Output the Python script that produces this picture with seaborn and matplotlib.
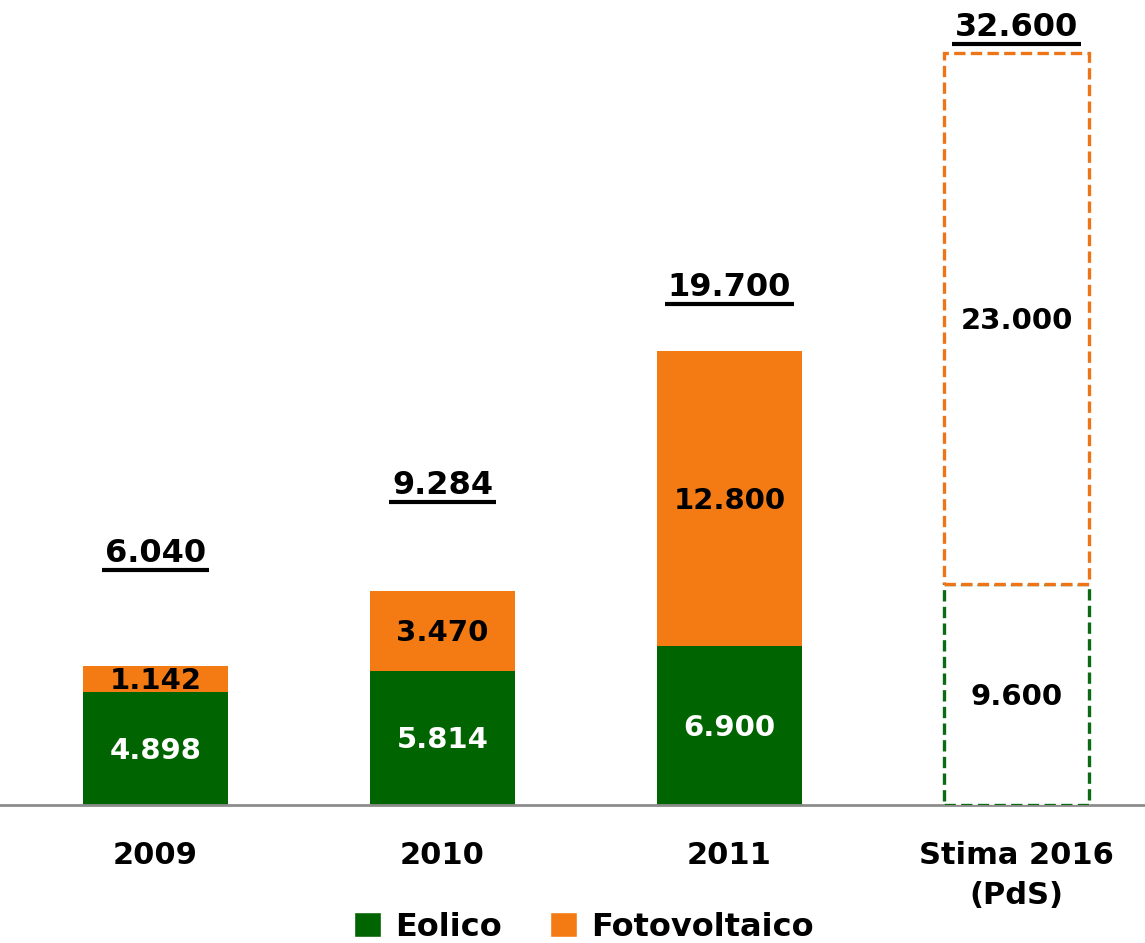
#!/usr/bin/env python3
# Stacked bar chart: potenza installata eolico + fotovoltaico (MW)

import matplotlib
matplotlib.use("Agg")
import matplotlib.pyplot as plt
from matplotlib.patches import Patch
import seaborn as sns

# ============================================================================
# DATA
# ============================================================================
categorie = ["2009", "2010", "2011", "Stima 2016\n(PdS)"]
eolico = [4898, 5814, 6900, 9600]
fotovoltaico = [1142, 3470, 12800, 23000]
totali = [6040, 9284, 19700, 32600]

eolico_lbl = ["4.898", "5.814", "6.900", "9.600"]
foto_lbl = ["1.142", "3.470", "12.800", "23.000"]
totali_lbl = ["6.040", "9.284", "19.700", "32.600"]

# layout: height (data units) of the underlined totals
totali_y = [10920, 13870, 22450, 33720]

# ============================================================================
# THEME SETTINGS
# ============================================================================
sns.set_theme(style="white")
plt.rcParams['font.family'] = ['DejaVu Sans']
plt.rcParams['text.color'] = 'black'
plt.rcParams['xtick.color'] = 'black'

green = '#006400'
orange = '#F47A14'
dash_green = '#0B6B12'
dash_orange = '#EE7418'

# ============================================================================
# CREATE PLOT
# ============================================================================
fig = plt.figure(figsize=(11.45, 9.43), dpi=100)
ax = fig.add_axes([0, 0.1463, 1, 0.844])

sns.barplot(x=categorie, y=eolico, color=green, width=0.505,
            saturation=1, linewidth=0, ax=ax)
sns.barplot(x=categorie, y=fotovoltaico, bottom=eolico, color=orange,
            width=0.505, saturation=1, linewidth=0, ax=ax)

# estimate bar: white fill, dashed outline
stima_g = ax.patches[3]
stima_o = ax.patches[7]
for p, c in [(stima_g, dash_green), (stima_o, dash_orange)]:
    p.set_facecolor('white')
    p.set_edgecolor(c)
    p.set_linewidth(2.4)
    p.set_linestyle((0, (3.4, 1.6)))
    p.set_zorder(3)

# value labels
tot_texts = []
for i in range(len(categorie)):
    col_g = 'white' if i < 3 else 'black'
    ax.text(i, eolico[i] / 2 - 100, eolico_lbl[i], ha='center', va='center',
            fontsize=21, fontweight='bold', color=col_g, zorder=4)
    ax.text(i, eolico[i] + fotovoltaico[i] / 2 - 100, foto_lbl[i],
            ha='center', va='center', fontsize=21, fontweight='bold',
            color='black', zorder=4)
    tot_texts.append(ax.text(i, totali_y[i], totali_lbl[i], ha='center',
                             va='center', fontsize=23, fontweight='bold',
                             color='black'))

ax.set_xlim(-0.542, 3.448)
ax.set_ylim(0, 34500)
ax.set_yticks([])
ax.set_ylabel("")
ax.set_xlabel("")
for s in ['top', 'right', 'left']:
    ax.spines[s].set_visible(False)
ax.spines['bottom'].set_color('#8C8C8C')
ax.spines['bottom'].set_linewidth(2)
ax.tick_params(axis='x', length=0, pad=26, labelsize=22, labelcolor='black')
for t in ax.get_xticklabels():
    t.set_fontweight('bold')
    t.set_linespacing(1.45)
    t.set_verticalalignment('top')

handles = [Patch(facecolor=green, label='Eolico'),
           Patch(facecolor=orange, label='Fotovoltaico')]
fig.legend(handles=handles, loc='lower center', ncol=2, frameon=False,
           bbox_to_anchor=(0.51, -0.03),
           prop={'weight': 'bold', 'size': 23},
           handlelength=0.85, handleheight=0.85, handletextpad=0.45,
           columnspacing=1.5)

# underline the totals
fig.canvas.draw()
inv = ax.transData.inverted()
for t in tot_texts:
    bb = t.get_window_extent()
    (x0, y0), (x1, _) = inv.transform([(bb.x0 - 3, bb.y0 - 1),
                                       (bb.x1 + 3, bb.y0)])
    ax.plot([x0, x1], [y0, y0], color='black', lw=3,
            solid_capstyle='butt', clip_on=False)

# ============================================================================
# SAVE OUTPUT
# ============================================================================
plt.savefig("out.png", dpi=100)
plt.close()
